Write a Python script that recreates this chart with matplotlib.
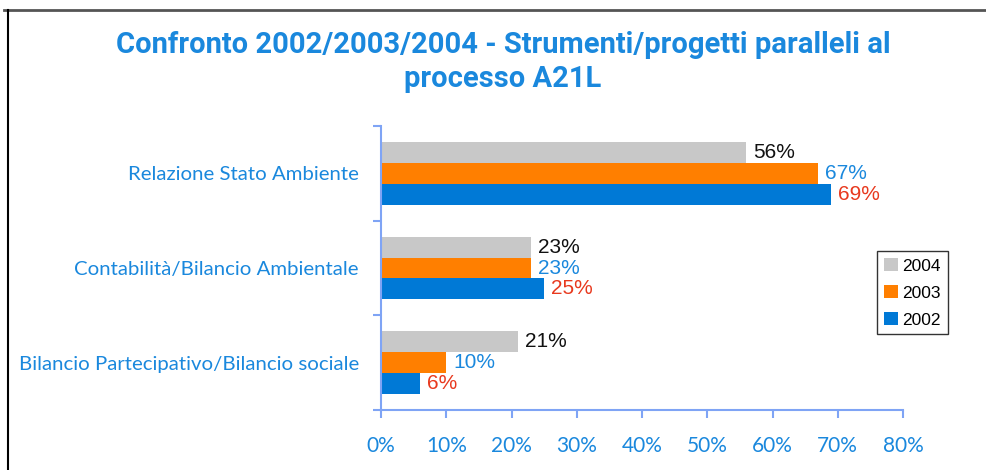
import matplotlib
matplotlib.use("Agg")
import matplotlib.pyplot as plt
from matplotlib.lines import Line2D
import numpy as np

categories = ["Relazione Stato Ambiente", "Contabilità/Bilancio Ambientale",
              "Bilancio Partecipativo/Bilancio sociale"]
years = ["2004", "2003", "2002"]
values = {
    "2004": [56, 23, 21],
    "2003": [67, 23, 10],
    "2002": [69, 25, 6],
}
xticks = [0, 10, 20, 30, 40, 50, 60, 70, 80]
title = "Confronto 2002/2003/2004 - Strumenti/progetti paralleli al\nprocesso A21L"

bar_colors = {"2004": "#c8c8c8", "2003": "#ff7f00", "2002": "#0079d6"}
label_colors = {"2004": "#111111", "2003": "#1a88dd", "2002": "#e8391e"}
blue_text = "#1a88dd"
axis_col = "#7fa4f5"

fig = plt.figure(figsize=(9.86, 4.70), dpi=100)
ax = fig.add_axes([381/986, 1 - 410/470, (903-381)/986, (410-126)/470])

ypos = np.arange(len(categories))[::-1]  # top category at highest y
h = 0.22
offsets = {"2004": h, "2003": 0.0, "2002": -h}
for yr in years:
    bars = ax.barh(ypos + offsets[yr], values[yr], height=h,
                   color=bar_colors[yr], label=yr, zorder=2)
    for b, v in zip(bars, values[yr]):
        ax.annotate(f"{v}%", (b.get_width(), b.get_y() + b.get_height()/2),
                    xytext=(5, 0), textcoords="offset points",
                    ha="left", va="center", fontsize=15,
                    family="Liberation Sans", color=label_colors[yr])

ax.set_xlim(0, 80)
ax.set_ylim(-0.5, 2.5)
ax.set_xticks(xticks)
ax.set_xticklabels([f"{t}%" for t in xticks], fontsize=15, color=blue_text,
                   family="Lato")
ax.set_yticks([-0.5, 0.5, 1.5, 2.5])
ax.set_yticklabels([])
ax.set_yticks(ypos, minor=True)
ax.set_yticklabels(categories, minor=True, fontsize=14.7, color=blue_text,
                   family="Lato")
ax.tick_params(axis="y", which="minor", length=0, pad=16)
ax.tick_params(axis="y", which="major", length=6, color=axis_col, width=1.5,
               direction="out")
ax.tick_params(axis="x", which="major", length=6, color=axis_col, width=1.5,
               direction="out", pad=13)
for s in ["top", "right"]:
    ax.spines[s].set_visible(False)
for s in ["left", "bottom"]:
    ax.spines[s].set_color(axis_col)
    ax.spines[s].set_linewidth(1.5)

leg = ax.legend(loc="upper left", bbox_to_anchor=((877-381)/522, 1 - (251-126)/284),
                borderaxespad=0, frameon=True, fancybox=False, edgecolor="black",
                handlelength=0.8, handleheight=0.8, handletextpad=0.25,
                borderpad=0.4, labelspacing=0.65,
                prop={"family": "Liberation Sans", "size": 12.5})
leg.get_frame().set_linewidth(1.0)

fig.text(503/986, 1 - 62/470, title, ha="center", va="center", fontsize=21,
         fontweight="bold", color="#1a88dd", family="Roboto",
         linespacing=1.3)

# outer frame lines
fig.add_artist(Line2D([4/986, 1], [1 - 10/470, 1 - 10/470], color="#555555",
                      lw=2, transform=fig.transFigure))
fig.add_artist(Line2D([8/986, 8/986], [0, 1 - 10/470], color="black",
                      lw=1.5, transform=fig.transFigure))

fig.savefig("out.png", dpi=100)
